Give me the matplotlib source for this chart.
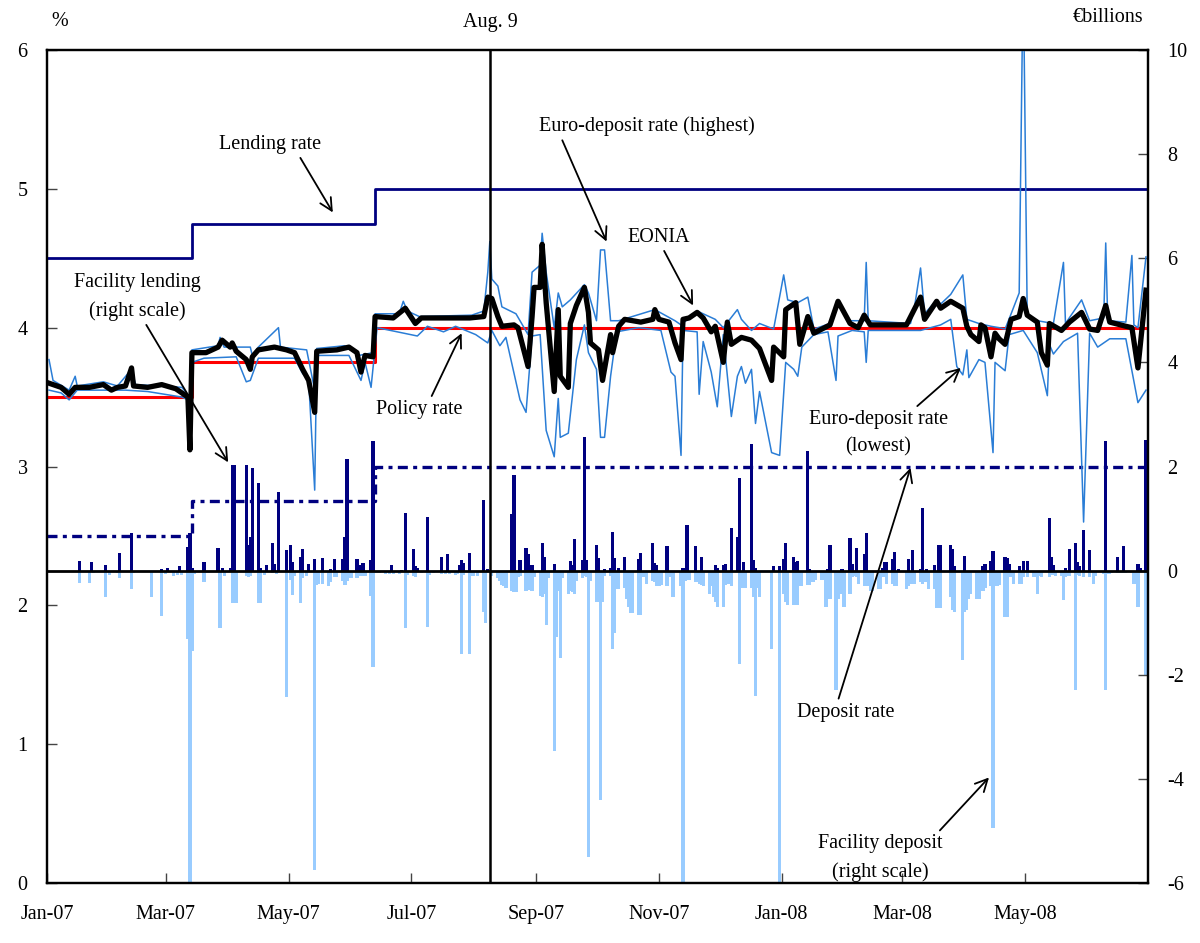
import matplotlib
matplotlib.use("Agg")
import matplotlib.pyplot as plt
import matplotlib.dates as mdates
import pandas as pd

# ---- data ----
rate_change_dates = ["2007-01-01", "2007-03-14", "2007-06-13", "2008-07-01"]
lending_rate = [4.50, 4.75, 5.00, 5.00]
policy_rate = [3.50, 3.75, 4.00, 4.00]
deposit_rate = [2.50, 2.75, 3.00, 3.00]

eonia = [
    ("2007-01-02", 3.60), ("2007-01-08", 3.57), ("2007-01-12", 3.52), ("2007-01-15", 3.57),
    ("2007-01-22", 3.57), ("2007-01-29", 3.59), ("2007-02-02", 3.55), ("2007-02-05", 3.57),
    ("2007-02-09", 3.58), ("2007-02-12", 3.71), ("2007-02-13", 3.58), ("2007-02-20", 3.57),
    ("2007-02-27", 3.59), ("2007-03-06", 3.56), ("2007-03-09", 3.53), ("2007-03-12", 3.50),
    ("2007-03-13", 3.12), ("2007-03-14", 3.82), ("2007-03-21", 3.82), ("2007-03-27", 3.86),
    ("2007-03-29", 3.91), ("2007-04-02", 3.86), ("2007-04-03", 3.89), ("2007-04-05", 3.83),
    ("2007-04-10", 3.77), ("2007-04-12", 3.70), ("2007-04-13", 3.79), ("2007-04-16", 3.84),
    ("2007-04-24", 3.86), ("2007-04-30", 3.84), ("2007-05-04", 3.82), ("2007-05-08", 3.70),
    ("2007-05-11", 3.62), ("2007-05-14", 3.39), ("2007-05-15", 3.83), ("2007-05-25", 3.84),
    ("2007-05-31", 3.86), ("2007-06-04", 3.82), ("2007-06-06", 3.68), ("2007-06-08", 3.80),
    ("2007-06-12", 3.79), ("2007-06-13", 4.08), ("2007-06-22", 4.07), ("2007-06-28", 4.14),
    ("2007-07-03", 4.03), ("2007-07-06", 4.07), ("2007-07-30", 4.07), ("2007-08-06", 4.08),
    ("2007-08-08", 4.22), ("2007-08-10", 4.21), ("2007-08-13", 4.08), ("2007-08-15", 4.01),
    ("2007-08-21", 4.02), ("2007-08-23", 4.00), ("2007-08-28", 3.72), ("2007-08-30", 4.08),
    ("2007-08-31", 4.29), ("2007-09-03", 4.29), ("2007-09-04", 4.60), ("2007-09-06", 4.18),
    ("2007-09-10", 3.54), ("2007-09-12", 4.13), ("2007-09-13", 3.65), ("2007-09-17", 3.57),
    ("2007-09-18", 4.03), ("2007-09-21", 4.16), ("2007-09-25", 4.29), ("2007-09-27", 4.11),
    ("2007-09-28", 3.89), ("2007-10-02", 3.84), ("2007-10-04", 3.62), ("2007-10-08", 3.95),
    ("2007-10-09", 3.82), ("2007-10-12", 4.01), ("2007-10-15", 4.06), ("2007-10-23", 4.04),
    ("2007-10-29", 4.06), ("2007-10-30", 4.13), ("2007-11-01", 4.06), ("2007-11-06", 4.04),
    ("2007-11-09", 3.89), ("2007-11-12", 3.77), ("2007-11-13", 4.06), ("2007-11-16", 4.07),
    ("2007-11-20", 4.11), ("2007-11-23", 4.07), ("2007-11-27", 3.97), ("2007-11-29", 4.01),
    ("2007-12-03", 3.75), ("2007-12-05", 4.04), ("2007-12-07", 3.88), ("2007-12-12", 3.93),
    ("2007-12-17", 3.91), ("2007-12-21", 3.85), ("2007-12-27", 3.62), ("2007-12-28", 3.86),
    ("2008-01-02", 3.79), ("2008-01-03", 4.13), ("2008-01-08", 4.18), ("2008-01-10", 3.88),
    ("2008-01-14", 4.08), ("2008-01-17", 3.96), ("2008-01-25", 4.02), ("2008-01-29", 4.19),
    ("2008-02-04", 4.03), ("2008-02-08", 4.00), ("2008-02-11", 4.09), ("2008-02-14", 4.02),
    ("2008-03-03", 4.02), ("2008-03-10", 4.22), ("2008-03-12", 4.06), ("2008-03-18", 4.19),
    ("2008-03-20", 4.14), ("2008-03-25", 4.19), ("2008-03-31", 4.14), ("2008-04-02", 4.01),
    ("2008-04-04", 3.95), ("2008-04-08", 3.90), ("2008-04-09", 4.02), ("2008-04-11", 4.00),
    ("2008-04-14", 3.79), ("2008-04-16", 3.96), ("2008-04-18", 3.92), ("2008-04-21", 3.88),
    ("2008-04-24", 4.06), ("2008-04-28", 4.08), ("2008-04-30", 4.21), ("2008-05-02", 4.09),
    ("2008-05-07", 4.04), ("2008-05-09", 3.82), ("2008-05-12", 3.73), ("2008-05-13", 4.03),
    ("2008-05-19", 3.98), ("2008-05-23", 4.04), ("2008-05-29", 4.11), ("2008-06-02", 3.99),
    ("2008-06-06", 3.98), ("2008-06-10", 4.16), ("2008-06-12", 4.04), ("2008-06-20", 4.01),
    ("2008-06-23", 4.00), ("2008-06-26", 3.71), ("2008-06-30", 4.27),
]

euro_high = [
    ("2007-01-02", 3.77), ("2007-01-04", 3.62), ("2007-01-12", 3.55), ("2007-01-15", 3.65),
    ("2007-01-16", 3.58), ("2007-01-29", 3.61), ("2007-02-05", 3.58), ("2007-02-12", 3.70),
    ("2007-02-14", 3.59), ("2007-03-09", 3.57), ("2007-03-13", 3.50), ("2007-03-14", 3.84),
    ("2007-03-27", 3.87), ("2007-03-28", 3.93), ("2007-03-30", 3.86), ("2007-04-12", 3.86),
    ("2007-04-13", 3.80), ("2007-04-16", 3.86), ("2007-04-26", 4.00), ("2007-04-27", 3.86),
    ("2007-05-10", 3.84), ("2007-05-14", 3.55), ("2007-05-15", 3.85), ("2007-05-29", 3.87),
    ("2007-06-05", 3.80), ("2007-06-12", 3.82), ("2007-06-13", 4.10), ("2007-06-25", 4.10),
    ("2007-06-27", 4.19), ("2007-06-29", 4.12), ("2007-07-05", 4.08), ("2007-07-31", 4.09),
    ("2007-08-06", 4.12), ("2007-08-08", 4.40), ("2007-08-09", 4.62), ("2007-08-10", 4.35),
    ("2007-08-13", 4.30), ("2007-08-15", 4.15), ("2007-08-22", 4.10), ("2007-08-28", 3.95),
    ("2007-08-30", 4.40), ("2007-09-03", 4.45), ("2007-09-04", 4.68), ("2007-09-06", 4.40),
    ("2007-09-10", 4.00), ("2007-09-12", 4.25), ("2007-09-14", 4.15), ("2007-09-18", 4.20),
    ("2007-09-25", 4.31), ("2007-09-27", 4.25), ("2007-10-01", 4.05), ("2007-10-03", 4.56),
    ("2007-10-05", 4.56), ("2007-10-08", 4.05), ("2007-10-12", 4.05), ("2007-10-30", 4.13),
    ("2007-11-09", 4.05), ("2007-11-12", 4.02), ("2007-11-20", 4.12), ("2007-11-26", 4.08),
    ("2007-11-29", 4.06), ("2007-12-03", 4.00), ("2007-12-10", 4.13), ("2007-12-12", 4.06),
    ("2007-12-17", 3.98), ("2007-12-21", 4.03), ("2007-12-28", 3.99), ("2008-01-02", 4.38),
    ("2008-01-04", 4.20), ("2008-01-09", 4.18), ("2008-01-14", 4.22), ("2008-01-17", 3.99),
    ("2008-01-25", 4.03), ("2008-01-29", 4.20), ("2008-02-04", 4.05), ("2008-02-11", 4.05),
    ("2008-02-12", 4.47), ("2008-02-13", 4.05), ("2008-03-05", 4.03), ("2008-03-07", 4.15),
    ("2008-03-10", 4.43), ("2008-03-12", 4.10), ("2008-03-18", 4.20), ("2008-03-20", 4.17),
    ("2008-03-25", 4.24), ("2008-03-31", 4.38), ("2008-04-02", 4.06), ("2008-04-08", 4.03),
    ("2008-04-14", 4.01), ("2008-04-18", 4.00), ("2008-04-21", 3.99), ("2008-04-24", 4.10),
    ("2008-04-28", 4.25), ("2008-04-30", 6.60), ("2008-05-02", 4.08), ("2008-05-07", 4.05),
    ("2008-05-15", 4.03), ("2008-05-20", 4.47), ("2008-05-21", 4.03), ("2008-05-29", 4.20),
    ("2008-06-02", 4.05), ("2008-06-09", 4.07), ("2008-06-10", 4.61), ("2008-06-11", 4.05),
    ("2008-06-20", 4.04), ("2008-06-23", 4.52), ("2008-06-24", 4.02), ("2008-06-26", 4.00),
    ("2008-06-30", 4.51),
]

euro_low = [
    ("2007-01-02", 3.55), ("2007-01-08", 3.53), ("2007-01-12", 3.48), ("2007-01-16", 3.55),
    ("2007-02-09", 3.55), ("2007-02-20", 3.54), ("2007-03-09", 3.50), ("2007-03-12", 3.48),
    ("2007-03-13", 3.48), ("2007-03-14", 3.75), ("2007-03-20", 3.78), ("2007-04-05", 3.79),
    ("2007-04-10", 3.61), ("2007-04-12", 3.62), ("2007-04-16", 3.78), ("2007-05-04", 3.78),
    ("2007-05-08", 3.67), ("2007-05-11", 3.62), ("2007-05-14", 2.83), ("2007-05-15", 3.80),
    ("2007-05-31", 3.80), ("2007-06-06", 3.62), ("2007-06-08", 3.75), ("2007-06-11", 3.57),
    ("2007-06-14", 4.00), ("2007-07-04", 3.94), ("2007-07-09", 4.01), ("2007-07-17", 3.97),
    ("2007-07-23", 4.01), ("2007-08-02", 3.95), ("2007-08-08", 3.89), ("2007-08-10", 3.98),
    ("2007-08-14", 3.87), ("2007-08-17", 3.93), ("2007-08-24", 3.48), ("2007-08-27", 3.39),
    ("2007-08-30", 3.94), ("2007-09-03", 3.95), ("2007-09-06", 3.26), ("2007-09-10", 3.07),
    ("2007-09-12", 3.49), ("2007-09-13", 3.21), ("2007-09-17", 3.24), ("2007-09-21", 3.77),
    ("2007-09-25", 4.02), ("2007-09-27", 3.82), ("2007-10-01", 3.70), ("2007-10-03", 3.21),
    ("2007-10-05", 3.21), ("2007-10-08", 3.65), ("2007-10-11", 3.97), ("2007-10-22", 4.00),
    ("2007-11-02", 3.98), ("2007-11-07", 3.68), ("2007-11-09", 3.65), ("2007-11-12", 3.08),
    ("2007-11-13", 3.98), ("2007-11-20", 3.97), ("2007-11-21", 3.52), ("2007-11-23", 3.90),
    ("2007-11-27", 3.68), ("2007-11-30", 3.43), ("2007-12-03", 3.95), ("2007-12-07", 3.36),
    ("2007-12-10", 3.65), ("2007-12-12", 3.72), ("2007-12-14", 3.60), ("2007-12-17", 3.70),
    ("2007-12-19", 3.31), ("2007-12-21", 3.54), ("2007-12-27", 3.10), ("2007-12-31", 3.08),
    ("2008-01-03", 3.75), ("2008-01-07", 3.70), ("2008-01-09", 3.65), ("2008-01-11", 3.86),
    ("2008-01-17", 3.95), ("2008-01-24", 3.97), ("2008-01-28", 3.62), ("2008-01-29", 3.94),
    ("2008-02-05", 3.98), ("2008-02-11", 3.97), ("2008-02-12", 3.75), ("2008-02-13", 3.98),
    ("2008-03-10", 3.98), ("2008-03-20", 4.02), ("2008-03-25", 4.06), ("2008-03-28", 3.72),
    ("2008-03-31", 3.66), ("2008-04-02", 3.84), ("2008-04-03", 3.64), ("2008-04-08", 3.77),
    ("2008-04-11", 3.75), ("2008-04-15", 3.10), ("2008-04-16", 3.75), ("2008-04-21", 3.69),
    ("2008-04-23", 3.95), ("2008-04-30", 3.98), ("2008-05-07", 3.82), ("2008-05-12", 3.51),
    ("2008-05-13", 3.88), ("2008-05-15", 3.81), ("2008-05-20", 3.90), ("2008-05-27", 3.96),
    ("2008-05-30", 2.60), ("2008-06-02", 3.96), ("2008-06-06", 3.86), ("2008-06-12", 3.92),
    ("2008-06-20", 3.92), ("2008-06-26", 3.46), ("2008-06-30", 3.55),
]

facility_lending = [
    ("2007-01-17", 0.19), ("2007-01-23", 0.17), ("2007-01-30", 0.11), ("2007-02-06", 0.34),
    ("2007-02-12", 0.72), ("2007-02-27", 0.04), ("2007-03-02", 0.06), ("2007-03-08", 0.08),
    ("2007-03-12", 0.46), ("2007-03-13", 0.72), ("2007-03-14", 0.05), ("2007-03-20", 0.17),
    ("2007-03-27", 0.43), ("2007-03-29", 0.05), ("2007-04-02", 0.06), ("2007-04-03", 2.03),
    ("2007-04-04", 2.03), ("2007-04-10", 2.03), ("2007-04-11", 0.49), ("2007-04-12", 0.65),
    ("2007-04-13", 1.97), ("2007-04-16", 1.68), ("2007-04-17", 0.05), ("2007-04-20", 0.10),
    ("2007-04-23", 0.53), ("2007-04-24", 0.12), ("2007-04-26", 1.51), ("2007-04-30", 0.39),
    ("2007-05-02", 0.49), ("2007-05-03", 0.17), ("2007-05-07", 0.26), ("2007-05-08", 0.41),
    ("2007-05-11", 0.12), ("2007-05-14", 0.22), ("2007-05-18", 0.24), ("2007-05-22", 0.04),
    ("2007-05-24", 0.22), ("2007-05-28", 0.23), ("2007-05-29", 0.65), ("2007-05-30", 2.15),
    ("2007-06-04", 0.23), ("2007-06-05", 0.10), ("2007-06-07", 0.15), ("2007-06-11", 0.20),
    ("2007-06-12", 2.49), ("2007-06-21", 0.10), ("2007-06-26", 0.02), ("2007-06-28", 1.10),
    ("2007-07-02", 0.42), ("2007-07-03", 0.09), ("2007-07-04", 0.05), ("2007-07-09", 1.03),
    ("2007-07-16", 0.26), ("2007-07-19", 0.32), ("2007-07-25", 0.10), ("2007-07-26", 0.20),
    ("2007-07-27", 0.15), ("2007-07-30", 0.33), ("2007-08-06", 1.35), ("2007-08-08", 0.04),
    ("2007-08-20", 1.09), ("2007-08-21", 1.83), ("2007-08-24", 0.20), ("2007-08-27", 0.44),
    ("2007-08-28", 0.32), ("2007-08-30", 0.10), ("2007-09-04", 0.53), ("2007-09-05", 0.27),
    ("2007-09-10", 0.12), ("2007-09-18", 0.18), ("2007-09-19", 0.10), ("2007-09-20", 0.60),
    ("2007-09-24", 0.20), ("2007-09-25", 2.57), ("2007-09-26", 0.20), ("2007-10-01", 0.49),
    ("2007-10-02", 0.25), ("2007-10-05", 0.03), ("2007-10-08", 0.05), ("2007-10-09", 0.74),
    ("2007-10-10", 0.25), ("2007-10-12", 0.05), ("2007-10-15", 0.26), ("2007-10-22", 0.22),
    ("2007-10-23", 0.33), ("2007-10-29", 0.54), ("2007-10-30", 0.15), ("2007-10-31", 0.10),
    ("2007-11-05", 0.47), ("2007-11-13", 0.05), ("2007-11-15", 0.88), ("2007-11-19", 0.47),
    ("2007-11-22", 0.26), ("2007-11-29", 0.10), ("2007-11-30", 0.05), ("2007-12-03", 0.10),
    ("2007-12-04", 0.12), ("2007-12-07", 0.82), ("2007-12-10", 0.65), ("2007-12-11", 1.78),
    ("2007-12-13", 0.16), ("2007-12-17", 2.43), ("2007-12-18", 0.20), ("2007-12-19", 0.05),
    ("2007-12-28", 0.08), ("2007-12-31", 0.08), ("2008-01-02", 0.22), ("2008-01-03", 0.54),
    ("2008-01-07", 0.26), ("2008-01-08", 0.16), ("2008-01-09", 0.18), ("2008-01-14", 2.30),
    ("2008-01-15", 0.03), ("2008-01-24", 0.03), ("2008-01-25", 0.49), ("2008-01-31", 0.03),
    ("2008-02-04", 0.63), ("2008-02-05", 0.12), ("2008-02-07", 0.44), ("2008-02-11", 0.32),
    ("2008-02-12", 0.72), ("2008-02-20", 0.06), ("2008-02-21", 0.17), ("2008-02-22", 0.17),
    ("2008-02-25", 0.22), ("2008-02-26", 0.36), ("2008-02-28", 0.03), ("2008-03-04", 0.22),
    ("2008-03-06", 0.40), ("2008-03-10", 0.04), ("2008-03-11", 1.20), ("2008-03-13", 0.04),
    ("2008-03-17", 0.10), ("2008-03-19", 0.49), ("2008-03-20", 0.49), ("2008-03-25", 0.49),
    ("2008-03-26", 0.41), ("2008-03-27", 0.08), ("2008-04-01", 0.28), ("2008-04-10", 0.08),
    ("2008-04-11", 0.13), ("2008-04-14", 0.19), ("2008-04-15", 0.38), ("2008-04-21", 0.26),
    ("2008-04-22", 0.24), ("2008-04-23", 0.13), ("2008-04-28", 0.09), ("2008-04-30", 0.19),
    ("2008-05-02", 0.19), ("2008-05-13", 1.01), ("2008-05-14", 0.26), ("2008-05-15", 0.11),
    ("2008-05-21", 0.05), ("2008-05-23", 0.41), ("2008-05-26", 0.53), ("2008-05-27", 0.17),
    ("2008-05-28", 0.09), ("2008-05-30", 0.78), ("2008-06-02", 0.40), ("2008-06-10", 2.49),
    ("2008-06-16", 0.26), ("2008-06-19", 0.47), ("2008-06-26", 0.13), ("2008-06-27", 0.05),
    ("2008-06-30", 2.50),
]

facility_deposit = [
    ("2007-01-17", -0.23), ("2007-01-22", -0.23), ("2007-01-24", -0.05), ("2007-01-30", -0.50),
    ("2007-02-01", -0.08), ("2007-02-05", -0.05), ("2007-02-06", -0.14), ("2007-02-12", -0.35),
    ("2007-02-13", -0.05), ("2007-02-16", -0.03), ("2007-02-22", -0.50), ("2007-02-27", -0.87),
    ("2007-03-01", -0.06), ("2007-03-05", -0.10), ("2007-03-07", -0.08), ("2007-03-09", -0.08),
    ("2007-03-12", -1.31), ("2007-03-13", -6.20), ("2007-03-14", -1.54), ("2007-03-15", -0.06),
    ("2007-03-20", -0.21), ("2007-03-22", -0.05), ("2007-03-28", -1.10), ("2007-03-30", -0.10),
    ("2007-04-03", -0.63), ("2007-04-04", -0.63), ("2007-04-05", -0.63), ("2007-04-10", -0.10),
    ("2007-04-11", -0.12), ("2007-04-12", -0.10), ("2007-04-16", -0.63), ("2007-04-17", -0.63),
    ("2007-04-19", -0.08), ("2007-04-23", -0.05), ("2007-04-25", -0.06), ("2007-04-30", -2.42),
    ("2007-05-02", -0.18), ("2007-05-03", -0.46), ("2007-05-04", -0.10), ("2007-05-07", -0.62),
    ("2007-05-08", -0.15), ("2007-05-10", -0.10), ("2007-05-14", -5.75), ("2007-05-15", -0.28),
    ("2007-05-16", -0.25), ("2007-05-18", -0.25), ("2007-05-21", -0.30), ("2007-05-22", -0.22),
    ("2007-05-24", -0.12), ("2007-05-25", -0.12), ("2007-05-28", -0.20), ("2007-05-29", -0.27),
    ("2007-05-30", -0.20), ("2007-06-01", -0.15), ("2007-06-04", -0.15), ("2007-06-06", -0.10),
    ("2007-06-07", -0.08), ("2007-06-08", -0.10), ("2007-06-11", -0.48), ("2007-06-12", -1.85),
    ("2007-06-14", -0.05), ("2007-06-15", -0.05), ("2007-06-18", -0.06), ("2007-06-20", -0.07),
    ("2007-06-22", -0.07), ("2007-06-25", -0.06), ("2007-06-28", -1.11), ("2007-06-29", -0.08),
    ("2007-07-02", -0.10), ("2007-07-03", -0.12), ("2007-07-06", -0.05), ("2007-07-09", -1.08),
    ("2007-07-10", -0.08), ("2007-07-12", -0.05), ("2007-07-16", -0.06), ("2007-07-18", -0.07),
    ("2007-07-20", -0.06), ("2007-07-23", -0.08), ("2007-07-24", -0.07), ("2007-07-26", -1.60),
    ("2007-07-27", -0.08), ("2007-07-30", -1.60), ("2007-07-31", -0.10), ("2007-08-01", -0.10),
    ("2007-08-03", -0.10), ("2007-08-06", -0.79), ("2007-08-07", -1.00), ("2007-08-08", -0.05),
    ("2007-08-10", -0.10), ("2007-08-13", -0.15), ("2007-08-14", -0.20), ("2007-08-15", -0.27),
    ("2007-08-16", -0.30), ("2007-08-17", -0.33), ("2007-08-20", -0.40), ("2007-08-21", -0.42),
    ("2007-08-22", -0.42), ("2007-08-23", -0.12), ("2007-08-24", -0.10), ("2007-08-27", -0.40),
    ("2007-08-28", -0.38), ("2007-08-29", -0.38), ("2007-08-30", -0.40), ("2007-08-31", -0.12),
    ("2007-09-03", -0.48), ("2007-09-04", -0.50), ("2007-09-05", -0.45), ("2007-09-06", -1.05),
    ("2007-09-07", -0.15), ("2007-09-10", -3.46), ("2007-09-11", -1.28), ("2007-09-12", -0.40),
    ("2007-09-13", -1.68), ("2007-09-14", -0.15), ("2007-09-17", -0.45), ("2007-09-18", -0.40),
    ("2007-09-19", -0.42), ("2007-09-20", -0.45), ("2007-09-21", -0.20), ("2007-09-24", -0.15),
    ("2007-09-25", -0.10), ("2007-09-26", -0.12), ("2007-09-27", -5.50), ("2007-09-28", -0.20),
    ("2007-10-01", -0.60), ("2007-10-02", -0.60), ("2007-10-03", -4.40), ("2007-10-04", -0.60),
    ("2007-10-05", -0.10), ("2007-10-08", -0.10), ("2007-10-09", -1.50), ("2007-10-10", -1.20),
    ("2007-10-11", -0.35), ("2007-10-12", -0.35), ("2007-10-15", -0.34), ("2007-10-16", -0.55),
    ("2007-10-17", -0.70), ("2007-10-18", -0.82), ("2007-10-19", -0.82), ("2007-10-22", -0.85),
    ("2007-10-23", -0.85), ("2007-10-24", -0.12), ("2007-10-25", -0.12), ("2007-10-26", -0.25),
    ("2007-10-29", -0.20), ("2007-10-30", -0.22), ("2007-10-31", -0.30), ("2007-11-01", -0.30),
    ("2007-11-02", -0.28), ("2007-11-05", -0.30), ("2007-11-06", -0.12), ("2007-11-07", -0.12),
    ("2007-11-08", -0.50), ("2007-11-12", -0.30), ("2007-11-13", -6.20), ("2007-11-14", -0.20),
    ("2007-11-15", -0.18), ("2007-11-16", -0.18), ("2007-11-19", -0.22), ("2007-11-20", -0.22),
    ("2007-11-21", -0.25), ("2007-11-22", -0.28), ("2007-11-23", -0.30), ("2007-11-26", -0.45),
    ("2007-11-27", -0.30), ("2007-11-28", -0.50), ("2007-11-29", -0.60), ("2007-11-30", -0.70),
    ("2007-12-03", -0.70), ("2007-12-04", -0.28), ("2007-12-05", -0.25), ("2007-12-06", -0.25),
    ("2007-12-07", -0.30), ("2007-12-11", -1.80), ("2007-12-12", -0.34), ("2007-12-13", -0.34),
    ("2007-12-14", -0.34), ("2007-12-17", -0.34), ("2007-12-18", -0.50), ("2007-12-19", -2.40),
    ("2007-12-20", -0.34), ("2007-12-21", -0.50), ("2007-12-27", -1.50), ("2007-12-31", -6.20),
    ("2008-01-02", -0.45), ("2008-01-03", -0.60), ("2008-01-04", -0.66), ("2008-01-07", -0.66),
    ("2008-01-08", -0.66), ("2008-01-09", -0.66), ("2008-01-10", -0.30), ("2008-01-11", -0.30),
    ("2008-01-14", -0.28), ("2008-01-15", -0.28), ("2008-01-16", -0.22), ("2008-01-17", -0.22),
    ("2008-01-18", -0.18), ("2008-01-21", -0.18), ("2008-01-22", -0.15), ("2008-01-23", -0.70),
    ("2008-01-24", -0.45), ("2008-01-25", -0.55), ("2008-01-28", -2.29), ("2008-01-29", -0.55),
    ("2008-01-30", -0.35), ("2008-01-31", -0.45), ("2008-02-01", -0.70), ("2008-02-04", -0.45),
    ("2008-02-05", -0.12), ("2008-02-06", -0.10), ("2008-02-07", -0.12), ("2008-02-08", -0.25),
    ("2008-02-11", -0.30), ("2008-02-12", -0.30), ("2008-02-13", -0.30), ("2008-02-14", -0.40),
    ("2008-02-15", -0.40), ("2008-02-18", -0.35), ("2008-02-19", -0.35), ("2008-02-20", -0.12),
    ("2008-02-21", -0.12), ("2008-02-22", -0.25), ("2008-02-25", -0.25), ("2008-02-26", -0.30),
    ("2008-02-27", -0.30), ("2008-03-03", -0.35), ("2008-03-04", -0.30), ("2008-03-05", -0.25),
    ("2008-03-06", -0.25), ("2008-03-07", -0.25), ("2008-03-10", -0.22), ("2008-03-11", -0.25),
    ("2008-03-12", -0.22), ("2008-03-13", -0.22), ("2008-03-14", -0.35), ("2008-03-17", -0.35),
    ("2008-03-18", -0.72), ("2008-03-19", -0.72), ("2008-03-20", -0.72), ("2008-03-25", -0.50),
    ("2008-03-26", -0.75), ("2008-03-27", -0.80), ("2008-03-31", -1.72), ("2008-04-01", -0.80),
    ("2008-04-02", -0.75), ("2008-04-03", -0.55), ("2008-04-04", -0.45), ("2008-04-07", -0.55),
    ("2008-04-08", -0.55), ("2008-04-09", -0.40), ("2008-04-10", -0.40), ("2008-04-11", -0.33),
    ("2008-04-14", -0.30), ("2008-04-15", -4.95), ("2008-04-16", -0.30), ("2008-04-17", -0.30),
    ("2008-04-18", -0.28), ("2008-04-21", -0.90), ("2008-04-22", -0.90), ("2008-04-23", -0.12),
    ("2008-04-24", -0.12), ("2008-04-25", -0.25), ("2008-04-28", -0.25), ("2008-04-29", -0.25),
    ("2008-04-30", -0.12), ("2008-05-02", -0.12), ("2008-05-05", -0.12), ("2008-05-06", -0.12),
    ("2008-05-07", -0.45), ("2008-05-08", -0.10), ("2008-05-09", -0.12), ("2008-05-13", -0.12),
    ("2008-05-14", -0.08), ("2008-05-15", -0.08), ("2008-05-16", -0.10), ("2008-05-19", -0.10),
    ("2008-05-20", -0.56), ("2008-05-21", -0.12), ("2008-05-22", -0.10), ("2008-05-23", -0.10),
    ("2008-05-26", -2.30), ("2008-05-27", -0.08), ("2008-05-28", -0.10), ("2008-05-30", -0.12),
    ("2008-06-02", -0.12), ("2008-06-04", -0.25), ("2008-06-05", -0.10), ("2008-06-09", -0.06),
    ("2008-06-10", -2.30), ("2008-06-11", -0.06), ("2008-06-12", -0.06), ("2008-06-13", -0.05),
    ("2008-06-16", -0.05), ("2008-06-17", -0.05), ("2008-06-18", -0.05), ("2008-06-19", -0.05),
    ("2008-06-20", -0.05), ("2008-06-23", -0.05), ("2008-06-24", -0.25), ("2008-06-25", -0.05),
    ("2008-06-26", -0.70), ("2008-06-30", -2.00),
]

x_ticks = ["2007-01-01", "2007-03-01", "2007-05-01", "2007-07-01", "2007-09-01",
           "2007-11-01", "2008-01-01", "2008-03-01", "2008-05-01"]


def split(pairs):
    d = pd.to_datetime([p[0] for p in pairs])
    v = [p[1] for p in pairs]
    return d, v


plt.rcParams['font.family'] = ['Liberation Serif', 'DejaVu Serif']
plt.rcParams['axes.unicode_minus'] = False
FS = 14.5
NAVY = '#000080'
BLUE = '#2A7DD6'
LIGHT = '#99CCFF'

fig = plt.figure(figsize=(12, 9.43), dpi=100)
ax = fig.add_axes([47 / 1200, 60 / 943, 1101 / 1200, 833 / 943])
ax2 = ax.twinx()
ax.set_zorder(ax2.get_zorder() + 1)
ax.patch.set_visible(False)

# bars on right scale
ld, lv = split(facility_lending)
dd, dv = split(facility_deposit)
ax2.bar(dd, dv, width=1.6, color=LIGHT, linewidth=0)
ax2.bar(ld, lv, width=1.6, color=NAVY, linewidth=0)
ax2.axhline(0, color='black', lw=2)
ax2.set_ylim(-6, 10)
ax2.set_yticks(range(-6, 11, 2))

# rate lines on left scale
rd = pd.to_datetime(rate_change_dates)
ax.step(rd, lending_rate, where='post', color=NAVY, lw=2)
ax.step(rd, policy_rate, where='post', color='red', lw=2.2)
ax.step(rd, deposit_rate, where='post', color=NAVY, lw=2.4,
        linestyle=(0, (3, 1.6, 1.2, 1.6)))
hd, hv = split(euro_high)
lod, lov = split(euro_low)
ax.plot(hd, hv, color=BLUE, lw=1.1)
ax.plot(lod, lov, color=BLUE, lw=1.1)
ed, ev = split(eonia)
ax.plot(ed, ev, color='black', lw=3.8, solid_joinstyle='round')
ax.axvline(pd.Timestamp("2007-08-09"), color='black', lw=1.8)

ax.set_ylim(0, 6)
ax.set_xlim(pd.Timestamp("2007-01-01"), pd.Timestamp("2008-07-01"))
ax.set_yticks(range(0, 7))
ax.set_xticks(pd.to_datetime(x_ticks))
ax.xaxis.set_major_formatter(mdates.DateFormatter('%b-%y'))

for a in (ax, ax2):
    a.tick_params(direction='in', length=7, width=1, labelsize=FS, color='#444444')
    for s in a.spines.values():
        s.set_linewidth(1.6)
ax.tick_params(axis='x', pad=16)
ax.tick_params(axis='y', pad=14)
ax2.tick_params(axis='y', pad=14)

fig.text(60 / 1200, 1 - 22 / 943, '%', fontsize=FS, ha='center', va='center')
fig.text(490 / 1200, 1 - 22 / 943, 'Aug. 9', fontsize=FS, ha='center', va='center')
fig.text(1108 / 1200, 1 - 17 / 943, '€billions', fontsize=FS, ha='center', va='center')

T = pd.Timestamp
# text, text position, arrow tip, where the arrow leaves the text box
notes = [
    ("Lending rate", T("2007-04-22"), 5.32, T("2007-05-23"), 4.83, (0.77, 0)),
    ("Euro-deposit rate (highest)", T("2007-10-26"), 5.45, T("2007-10-06"), 4.62, (0.1, 0)),
    ("EONIA", T("2007-11-01"), 4.65, T("2007-11-18"), 4.16, (0.55, 0)),
    ("Facility lending\n(right scale)", T("2007-02-15"), 4.22, T("2007-04-01"), 3.03, (0.55, 0)),
    ("Policy rate", T("2007-07-05"), 3.41, T("2007-07-26"), 3.96, (0.62, 1)),
    ("Euro-deposit rate\n(lowest)", T("2008-02-18"), 3.24, T("2008-03-30"), 3.71, (0.75, 1)),
    ("Deposit rate", T("2008-02-02"), 1.23, T("2008-03-05"), 2.99, (0.41, 1)),
    ("Facility deposit\n(right scale)", T("2008-02-19"), 0.18, T("2008-04-13"), 0.76, (0.95, 1)),
]
for txt, tx, ty, px, py, rp in notes:
    ax.annotate(txt, xy=(px, py), xytext=(tx, ty), fontsize=FS, ha='center',
                va='center', linespacing=1.6, zorder=5,
                arrowprops=dict(arrowstyle='->', color='black', lw=1.3,
                                mutation_scale=22, shrinkA=1, shrinkB=0,
                                relpos=rp))

fig.savefig('out.png', dpi=100)
